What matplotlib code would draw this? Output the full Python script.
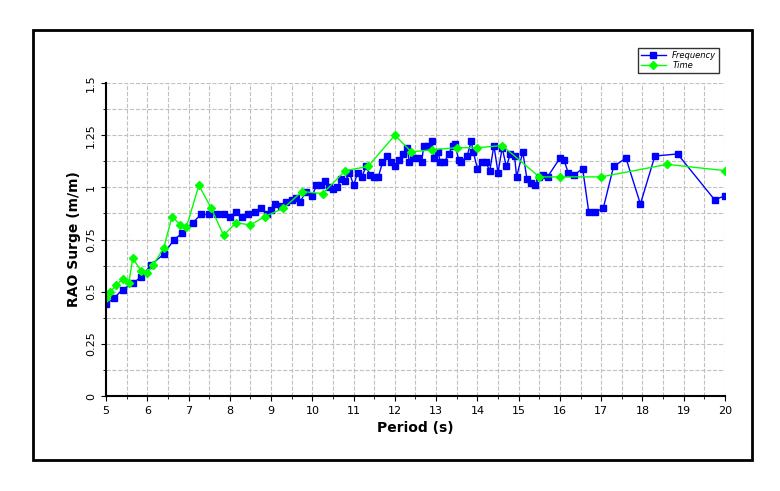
import matplotlib
matplotlib.use("Agg")
import matplotlib.pyplot as plt
from matplotlib.patches import Rectangle
import numpy as np

freq_x = [5.0,5.2,5.4,5.65,5.85,6.1,6.4,6.65,6.85,7.1,7.3,7.5,7.7,7.85,8.0,8.15,8.3,8.45,8.6,8.75,8.9,9.0,9.1,9.25,9.35,9.5,9.6,9.7,9.85,10.0,10.1,10.2,10.3,10.4,10.5,10.6,10.7,10.8,10.9,11.0,11.1,11.2,11.3,11.4,11.5,11.6,11.7,11.8,11.9,12.0,12.1,12.2,12.3,12.35,12.45,12.55,12.65,12.7,12.8,12.9,12.95,13.05,13.1,13.2,13.3,13.4,13.45,13.55,13.6,13.75,13.85,13.9,14.0,14.1,14.2,14.3,14.4,14.5,14.6,14.7,14.8,14.9,14.95,15.1,15.2,15.3,15.4,15.5,15.6,15.7,16.0,16.1,16.2,16.35,16.55,16.7,16.85,17.05,17.3,17.6,17.95,18.3,18.85,19.75,20.0]
freq_y = [0.44,0.47,0.51,0.54,0.57,0.63,0.68,0.75,0.78,0.83,0.87,0.87,0.87,0.87,0.86,0.88,0.86,0.87,0.88,0.90,0.87,0.89,0.92,0.91,0.93,0.94,0.95,0.93,0.98,0.96,1.01,1.01,1.03,1.0,0.99,1.0,1.04,1.03,1.07,1.01,1.07,1.05,1.10,1.06,1.05,1.05,1.12,1.15,1.12,1.10,1.13,1.16,1.19,1.12,1.14,1.14,1.12,1.2,1.2,1.22,1.14,1.17,1.12,1.12,1.16,1.2,1.21,1.13,1.12,1.15,1.22,1.17,1.09,1.12,1.12,1.08,1.2,1.07,1.19,1.10,1.16,1.15,1.05,1.17,1.04,1.02,1.01,1.05,1.06,1.05,1.14,1.13,1.07,1.06,1.09,0.88,0.88,0.90,1.10,1.14,0.92,1.15,1.16,0.94,0.96]
time_x = [5.0,5.1,5.25,5.4,5.55,5.65,5.85,6.0,6.15,6.4,6.6,6.8,6.95,7.25,7.55,7.85,8.15,8.5,8.85,9.3,9.75,10.25,10.8,11.35,12.0,12.4,12.9,13.5,14.0,14.6,15.5,16.0,17.0,18.6,20.0]
time_y = [0.47,0.50,0.53,0.56,0.54,0.66,0.60,0.59,0.63,0.71,0.86,0.82,0.81,1.01,0.90,0.77,0.83,0.82,0.86,0.90,0.98,0.97,1.08,1.10,1.25,1.17,1.18,1.19,1.19,1.20,1.05,1.05,1.05,1.11,1.08]

fig = plt.figure(figsize=(7.8, 4.91), dpi=100)
fig.patches.append(Rectangle((33/780, 1-460/491), (752-33)/780, (460-30)/491,
                             transform=fig.transFigure, fill=False, lw=2, ec="black"))
ax = fig.add_axes([106/780, 1-396/491, (725-106)/780, (396-83)/491])
ax.plot(freq_x, freq_y, color="#0000ff", lw=1, marker="s", ms=5, label="Frequency")
ax.plot(time_x, time_y, color="#00ff00", lw=1, marker="D", ms=4, label="Time")
ax.set_xlim(5, 20)
ax.set_ylim(0, 1.5)
ax.set_xticks(np.arange(5, 21, 1))
ax.set_xticks(np.arange(5, 20.01, 0.5), minor=True)
ax.set_yticks(np.arange(0, 1.51, 0.25))
ax.set_yticks(np.arange(0, 1.51, 0.125), minor=True)
ax.set_yticklabels(["0", "0.25", "0.5", "0.75", "1", "1.25", "1.5"], rotation=90, va="center")
ax.grid(which="both", ls="--", color="#c0c0c0", lw=0.8)
ax.tick_params(labelsize=8)
for s in ["top", "right"]:
    ax.spines[s].set_visible(False)
ax.spines["left"].set_linewidth(1.5)
ax.spines["bottom"].set_linewidth(1.5)
ax.set_xlabel("Period (s)", fontweight="bold", fontsize=10)
ax.set_ylabel("RAO Surge (m/m)", fontweight="bold", fontsize=10)
leg = fig.legend(loc="upper right", bbox_to_anchor=(723/780, 1-44/491), fontsize=6,
                 prop={"style": "italic", "size": 6}, fancybox=False, edgecolor="black",
                 handlelength=3, borderpad=0.3, labelspacing=0.2)
fig.savefig("out.png", dpi=100)
